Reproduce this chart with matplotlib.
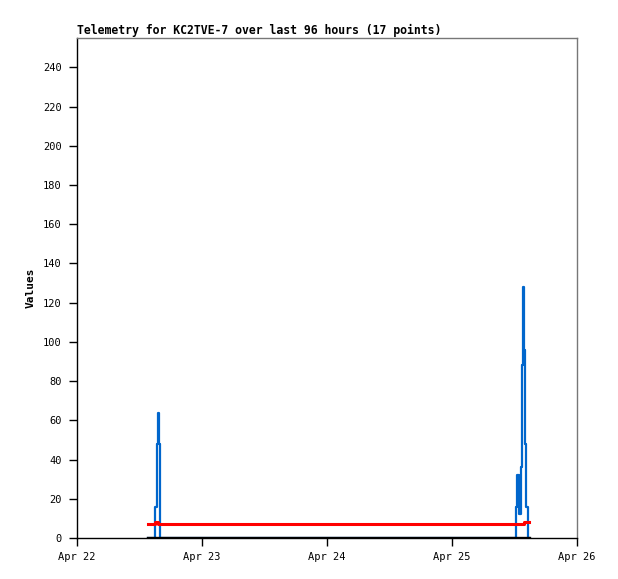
import matplotlib
matplotlib.use("Agg")
import matplotlib.pyplot as plt
import numpy as np
from datetime import datetime, timedelta

# hours after Apr 22 00:00
hours = [13.7, 15.0, 15.3, 15.5, 15.7, 15.9, 16.0,
         84.3, 84.5, 84.9, 85.2, 85.4, 85.6, 85.8, 86.0, 86.3, 86.6]
blue_vals = [0, 16, 48, 64, 48, 16, 0,
             16, 32, 12, 36, 88, 128, 96, 48, 16, 0]
red_vals = [7, 8, 8, 7, 7, 7, 7,
            7, 7, 7, 7, 7, 7, 8, 8, 8, 8]
black_vals = [0] * 17

title = "Telemetry for KC2TVE-7 over last 96 hours (17 points)"
tick_days = ["Apr 22", "Apr 23", "Apr 24", "Apr 25", "Apr 26"]

start = datetime(2024, 4, 22)
times = [start + timedelta(hours=h) for h in hours]
times.append(start + timedelta(hours=86.8))

fig = plt.figure(figsize=(6.18, 5.79), dpi=100)
ax = fig.add_axes([77 / 618, 41 / 579, 500 / 618, 500 / 579])

ax.plot(times, blue_vals + [0], color="#0066cc", lw=1.6, drawstyle="steps-post")
ax.plot(times, red_vals + [8], color="#ff0000", lw=2.2, drawstyle="steps-post")
ax.plot(times, black_vals + [0], color="black", lw=2.4, drawstyle="steps-post")

ax.set_xlim(start, start + timedelta(days=4))
ax.set_ylim(0, 255)
ax.set_yticks(np.arange(0, 241, 20))
ax.set_xticks([start + timedelta(days=i) for i in range(5)])
ax.set_xticklabels(tick_days)

mono = "DejaVu Sans Mono"
for lab in ax.get_xticklabels() + ax.get_yticklabels():
    lab.set_fontfamily(mono)
    lab.set_fontsize(7.5)
ax.tick_params(axis="both", direction="out", length=5.5, width=1)
ax.tick_params(axis="y", pad=5.5)
ax.tick_params(axis="x", pad=4.5)
ax.tick_params(right=False, top=False)

ax.spines["top"].set_color("#777777")
ax.spines["right"].set_color("#777777")
for s in ax.spines.values():
    s.set_linewidth(1)

ax.set_ylabel("Values", fontfamily=mono, fontweight="bold", fontsize=8, labelpad=5)
ax.set_title(title, loc="left", fontfamily=mono, fontweight="bold", fontsize=8.3, pad=3)

fig.savefig("out.png", dpi=100)
